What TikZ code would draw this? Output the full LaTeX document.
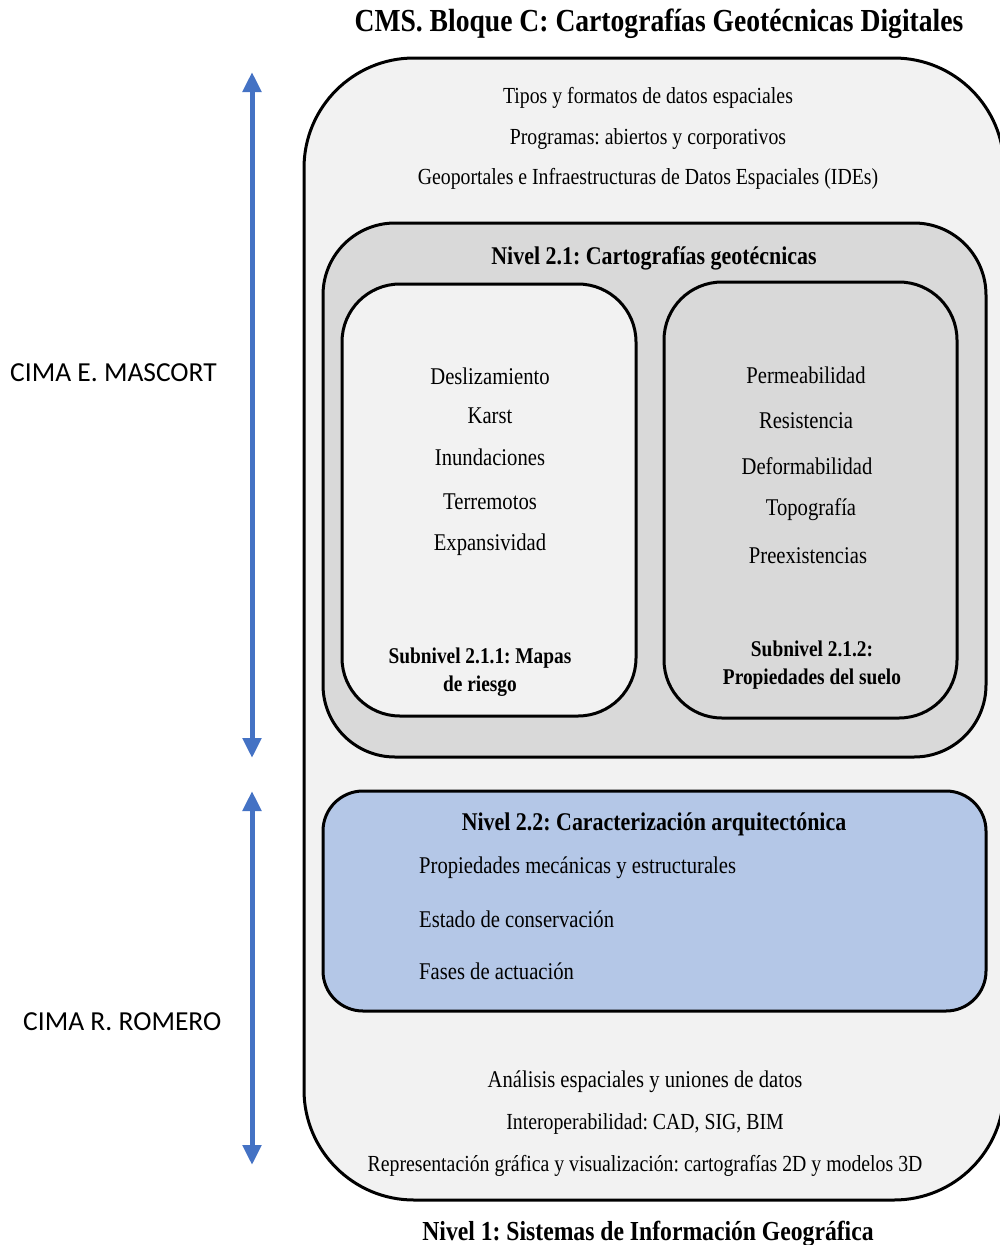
\documentclass[tikz,border=0pt]{standalone}
\usepackage{fontspec}
\setmainfont{Liberation Serif}[FakeStretch=0.86]
\newfontfamily\cimafont{Carlito}
\usetikzlibrary{arrows.meta}
\definecolor{bgout}{HTML}{F2F2F2}
\definecolor{bggray}{HTML}{D9D9D9}
\definecolor{bgblue}{HTML}{B4C7E7}
\definecolor{arrblue}{HTML}{4472C4}
\frenchspacing
\tikzset{
  box/.style={draw=black,line width=3pt,rounded corners=#1,inner sep=0pt},
  txt/.style={font=\fontsize{24}{28}\selectfont,inner sep=0pt,anchor=center},
  stxt/.style={font=\fontsize{23}{27}\selectfont,inner sep=0pt,anchor=center},
  btxt/.style={font=\fontsize{25.5}{30}\selectfont\bfseries,inner sep=0pt,anchor=center},
  sbtxt/.style={font=\fontsize{22.5}{28}\selectfont\bfseries,inner sep=0pt,anchor=center,align=center},
  ltxt/.style={font=\fontsize{24}{28}\selectfont,inner sep=0pt,anchor=west},
  cima/.style={font=\fontsize{27.5}{30}\selectfont\cimafont,inner sep=0pt,anchor=west},
  blarrow/.style={draw=arrblue,line width=5pt,{Triangle[width=18pt,length=20pt]}-{Triangle[width=18pt,length=20pt]}}
}
\begin{document}
\begin{tikzpicture}[x=1pt,y=-1pt]
\useasboundingbox (0,0) rectangle (999,1245);
% boxes
\draw[box=110,fill=bgout] (304,58) rectangle (1004,1200);
\draw[box=72,fill=bggray] (323,223) rectangle (986,757);
\draw[box=58,fill=bgout] (342,284) rectangle (636,716);
\draw[box=58,fill=bggray] (664,282) rectangle (957,718);
\draw[box=40,fill=bgblue] (323,791) rectangle (986,1011);
% title
\node[font=\fontsize{32.1}{36}\selectfont\bfseries,inner sep=0pt] (title) at (659,24) {CMS. Bloque C: Cartografías Geotécnicas Digitales};
% level 1 top texts
\node[stxt] (t1) at (648,98) {Tipos y formatos de datos espaciales};
\node[stxt] (t2) at (648,139) {Programas: abiertos y corporativos};
\node[stxt] (t3) at (648,179) {Geoportales e Infraestructuras de Datos Espaciales (IDEs)};
% nivel 2.1
\node[btxt] (n21) at (654,258) {Nivel 2.1: Cartografías geotécnicas};
\node[txt] (a1) at (490,376) {Deslizamiento};
\node[txt] (a2) at (490,416) {Karst};
\node[txt] (a3) at (490,457) {Inundaciones};
\node[txt] (a4) at (490,502) {Terremotos};
\node[txt] (a5) at (490,545) {Expansividad};
\node[sbtxt] (s1) at (480,672) {Subnivel 2.1.1: Mapas\\de riesgo};
\node[txt] (b1) at (806,375) {Permeabilidad};
\node[txt] (b2) at (806,421) {Resistencia};
\node[txt] (b3) at (807,466) {Deformabilidad};
\node[txt] (b4) at (811,510) {Topografía};
\node[txt] (b5) at (808,556) {Preexistencias};
\node[sbtxt] (s2) at (812,665) {Subnivel 2.1.2:\\Propiedades del suelo};
% nivel 2.2
\node[btxt] (n22) at (654,824) {Nivel 2.2: Caracterización arquitectónica};
\node[ltxt] (c1) at (419,868) {Propiedades mecánicas y estructurales};
\node[ltxt] (c2) at (419,919) {Estado de conservación};
\node[ltxt] (c3) at (419,971) {Fases de actuación};
% level 1 bottom texts
\node[txt] (d1) at (645,1082) {Análisis espaciales y uniones de datos};
\node[stxt] (d2) at (645,1124) {Interoperabilidad: CAD, SIG, BIM};
\node[stxt] (d3) at (645,1166) {Representación gráfica y visualización: cartografías 2D y modelos 3D};
\node[font=\fontsize{27.5}{32}\selectfont\bfseries,inner sep=0pt] (n1) at (648,1234) {Nivel 1: Sistemas de Información Geográfica};
% side labels
\node[cima] (m1) at (10,373) {CIMA E. MASCORT};
\node[cima] (m2) at (23,1022) {CIMA R. ROMERO};
% arrows
\coordinate (ua) at (252,72);
\coordinate (ub) at (252,758);
\coordinate (la) at (252,791);
\coordinate (lb) at (252,1165);
\draw[blarrow] (ua) -- (ub);
\draw[blarrow] (la) -- (lb);
\end{tikzpicture}
\end{document}
